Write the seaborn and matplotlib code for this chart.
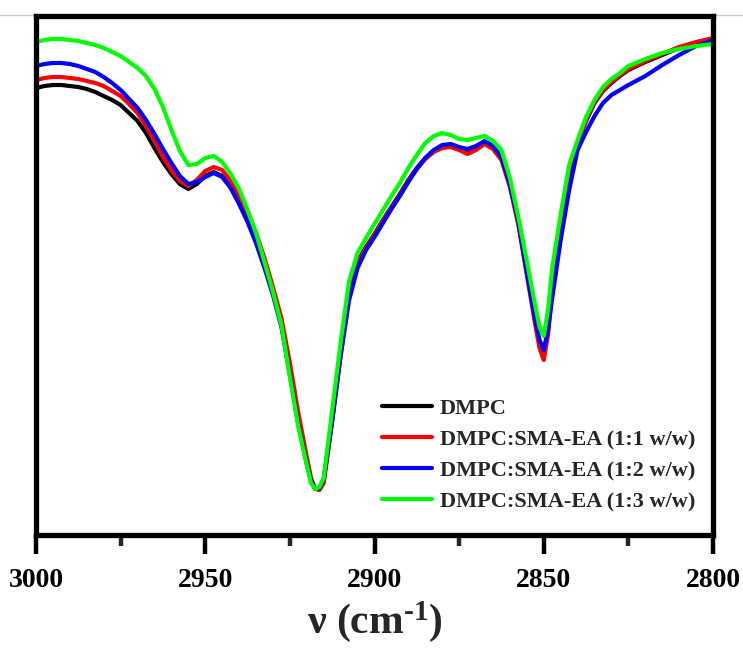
import numpy as np
import pandas as pd
import seaborn as sns
import matplotlib
matplotlib.use("Agg")
import matplotlib.pyplot as plt
from matplotlib.lines import Line2D
from matplotlib.ticker import MultipleLocator

# wavenumber grid (cm^-1)
wavenumber = [3000, 2997.5, 2995, 2992.5, 2990, 2987.5, 2985, 2982.5, 2980, 2977.5,
              2975, 2972.5, 2970, 2967.5, 2965, 2962.5, 2960, 2957.5, 2955, 2952.5,
              2950, 2947.5, 2945, 2942.5, 2940, 2937.5, 2935, 2932.5, 2930, 2927.5,
              2925, 2922.5, 2920, 2918.75, 2917.5, 2916.25, 2915, 2912.5, 2910, 2907.5,
              2905, 2902.5, 2900, 2897.5, 2895, 2892.5, 2890, 2887.5, 2885, 2882.5,
              2880, 2877.5, 2875, 2872.5, 2870, 2867.5, 2865, 2862.5, 2860, 2857.5,
              2855, 2852.5, 2851.25, 2850, 2848.75, 2847.5, 2845, 2842.5, 2840, 2837.5,
              2835, 2832.5, 2830, 2827.5, 2825, 2820, 2815, 2810, 2805, 2800]

# absorption-like signal (a.u.), plotted on an inverted axis
dmpc = [88, 86, 85, 85, 86, 87, 89, 92, 96, 100,
        105, 113, 121, 133, 148, 162, 174, 184, 189, 184,
        176, 172, 176, 186, 200, 218, 238, 262, 290, 322,
        370, 420, 462, 481, 489, 488, 480, 418, 352, 293,
        262, 247, 234, 220, 207, 194, 180, 168, 158, 151,
        147, 146, 149, 152, 148, 143, 147, 158, 185, 222,
        272, 320, 343, 354, 330, 287, 228, 173, 143, 121,
        103, 91, 83, 76, 70, 62, 55, 48, 43, 39]
sma_11 = [80, 78, 77, 77, 78, 79, 81, 83, 86, 91,
          96, 104, 113, 126, 141, 157, 170, 181, 186, 180,
          171, 167, 170, 181, 196, 213, 233, 258, 287, 318,
          363, 413, 457, 478, 489, 490, 483, 422, 355, 295,
          264, 248, 235, 221, 208, 195, 181, 169, 159, 152,
          148, 147, 150, 154, 150, 144, 149, 160, 187, 225,
          275, 325, 348, 360, 335, 290, 230, 175, 145, 120,
          102, 90, 82, 75, 69, 61, 54, 47, 42, 38]
sma_12 = [66, 64, 63, 63, 64, 66, 69, 72, 77, 83,
          90, 99, 108, 120, 134, 149, 163, 176, 184, 182,
          177, 173, 177, 188, 204, 222, 243, 268, 295, 327,
          375, 425, 464, 481, 489, 488, 479, 420, 356, 300,
          268, 250, 237, 223, 209, 196, 182, 169, 158, 150,
          145, 144, 147, 149, 146, 141, 146, 157, 184, 222,
          272, 320, 340, 350, 330, 298, 240, 190, 150, 132,
          116, 103, 95, 90, 85, 76, 65, 55, 46, 40]
sma_13 = [42, 40, 39, 39, 40, 41, 43, 45, 48, 52,
          56, 62, 68, 76, 89, 107, 130, 151, 165, 164,
          158, 156, 162, 174, 189, 210, 233, 262, 292, 325,
          377, 427, 465, 483, 489, 487, 478, 410, 342, 281,
          253, 238, 224, 210, 196, 183, 168, 155, 143, 136,
          133, 135, 139, 140, 138, 136, 141, 150, 178, 217,
          261, 306, 327, 336, 310, 268, 214, 165, 140, 117,
          100, 87, 79, 73, 66, 59, 53, 49, 46, 44]

labels = ["DMPC", "DMPC:SMA-EA (1:1 w/w)", "DMPC:SMA-EA (1:2 w/w)", "DMPC:SMA-EA (1:3 w/w)"]
colors = ["#000000", "#ff0000", "#0000ff", "#00ff00"]
series = [dmpc, sma_11, sma_12, sma_13]

df = pd.concat([pd.DataFrame({"wavenumber": wavenumber, "signal": s, "sample": lab})
                for s, lab in zip(series, labels)], ignore_index=True)

sns.set_style("ticks")
plt.rcParams["font.family"] = ["Liberation Serif", "DejaVu Serif"]
plt.rcParams["font.weight"] = "bold"
plt.rcParams["mathtext.fontset"] = "custom"
plt.rcParams["mathtext.rm"] = "Liberation Serif:bold"
plt.rcParams["mathtext.bf"] = "Liberation Serif:bold"
plt.rcParams["mathtext.it"] = "Liberation Serif:bold"

fig = plt.figure(figsize=(7.43, 6.5), dpi=100)
ax = fig.add_axes([36/743, 1 - 535/650, (713 - 36)/743, (535 - 16)/650])

sns.lineplot(data=df, x="wavenumber", y="signal", hue="sample",
             palette=dict(zip(labels, colors)), hue_order=labels,
             sort=False, estimator=None, linewidth=3, ax=ax, legend=False)
for ln in ax.get_lines():
    ln.set_solid_joinstyle("round")
    ln.set_solid_capstyle("round")

ax.set_xlim(3000, 2800)
ax.set_ylim(535, 16)
ax.xaxis.set_major_locator(MultipleLocator(50))
ax.xaxis.set_minor_locator(MultipleLocator(25))
ax.set_yticks([])
ax.set_ylabel("")
for sp in ax.spines.values():
    sp.set_visible(True)
    sp.set_linewidth(3.8)
    sp.set_color("black")
ax.tick_params(axis="x", which="major", direction="out", length=14, width=3.2,
               labelsize=20, pad=10, colors="black")
ax.tick_params(axis="x", which="minor", direction="out", length=8, width=3.2)
for lab in ax.get_xticklabels():
    lab.set_fontweight("bold")
ax.set_xlabel(r"ν (cm$^{\text{-1}}$)", fontsize=30, fontweight="bold", labelpad=4)

handles = [Line2D([], [], color=c, lw=3) for c in colors]
leg = ax.legend(handles, labels, loc="upper left", bbox_to_anchor=(0.511, 0.263),
                frameon=False, handlelength=2.25, handletextpad=0.36,
                labelspacing=0.47, borderpad=0, borderaxespad=0,
                prop={"family": "Liberation Serif", "weight": "bold", "size": 16})

fig.add_artist(Line2D([0, 1], [1 - 15/650, 1 - 15/650], color="#c8c8c8", lw=1, zorder=0))

fig.savefig("out.png", dpi=100)
